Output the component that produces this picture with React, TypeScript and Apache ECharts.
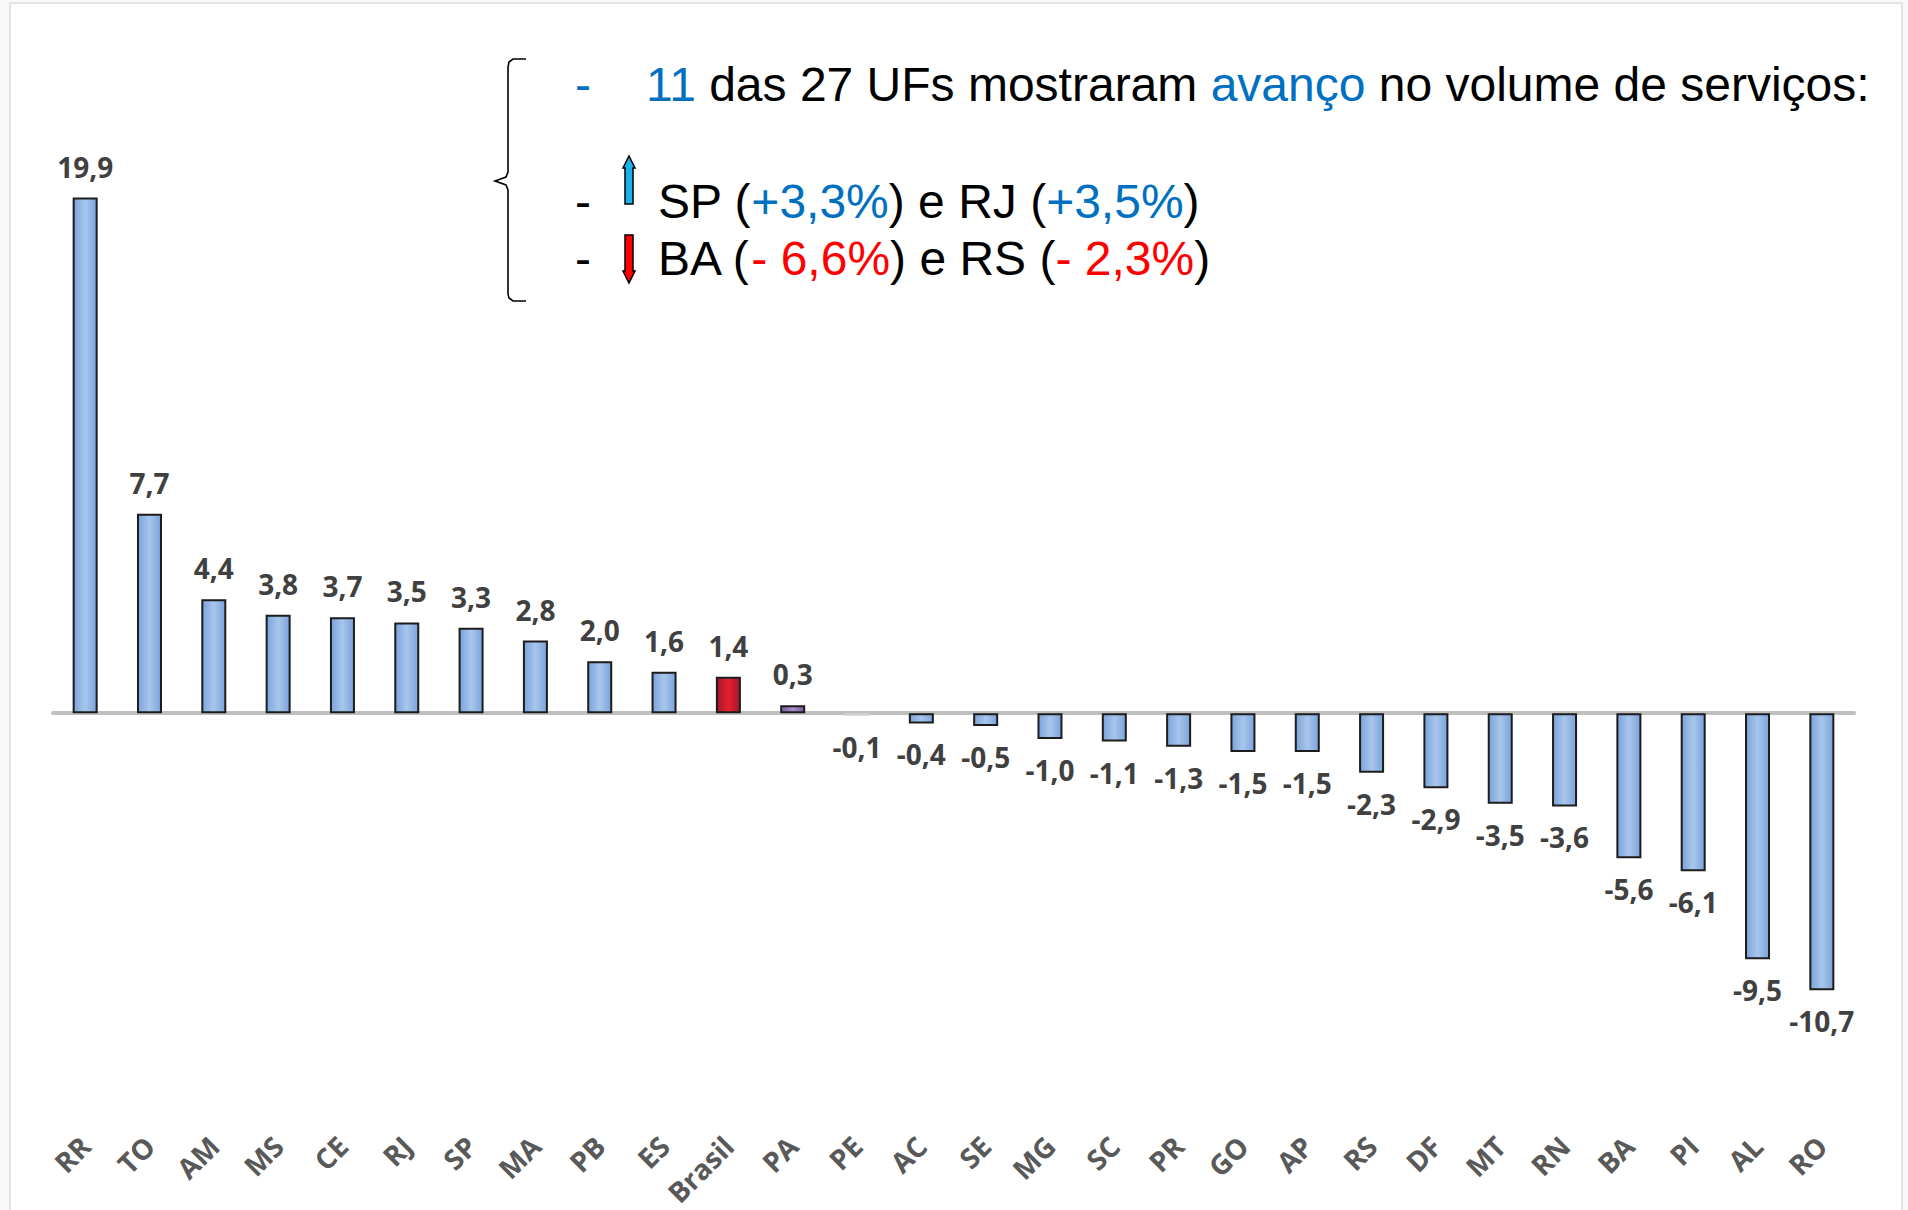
import React, { useEffect, useRef } from "react";
import * as echarts from "echarts";

const categories = ["RR","TO","AM","MS","CE","RJ","SP","MA","PB","ES","Brasil","PA","PE","AC","SE","MG","SC","PR","GO","AP","RS","DF","MT","RN","BA","PI","AL","RO"];
const values = [19.9,7.7,4.4,3.8,3.7,3.5,3.3,2.8,2.0,1.6,1.4,0.3,-0.1,-0.4,-0.5,-1.0,-1.1,-1.3,-1.5,-1.5,-2.3,-2.9,-3.5,-3.6,-5.6,-6.1,-9.5,-10.7];

const line1 = "{b|11} das 27 UFs mostraram {b|avanço} no volume de serviços:";
const line2 = "SP ({b|+3,3%}) e RJ ({b|+3,5%})";
const line3 = "BA ({r|- 6,6%}) e RS ({r|- 2,3%})";

const grad = (edge: string, mid: string) => ({
  type: "linear", x: 0, y: 0, x2: 1, y2: 0,
  colorStops: [
    { offset: 0, color: edge },
    { offset: 0.5, color: mid },
    { offset: 1, color: edge },
  ],
});

export default function App() {
  const ref = useRef<HTMLDivElement>(null);
  useEffect(() => {
    const chart = echarts.init(ref.current!, null, { renderer: "svg" });
    const TF = "'Liberation Sans', Arial, sans-serif";
    const LF = "'Open Sans', Lato, sans-serif";
    const FS = 48;
    const richStyles = {
      b: { fill: "#0070C0", fontSize: FS, fontFamily: TF },
      r: { fill: "#FF0000", fontSize: FS, fontFamily: TF },
    };
    const data = values.map((v, i) => {
      const c = categories[i];
      let color: any = grad("#7aa3da", "#a9c6ec");
      let borderColor = "#1c1c1c";
      if (c === "Brasil") color = grad("#a01830", "#e8202c");
      if (c === "PA") color = grad("#7a5c9c", "#a68ec6");
      if (c === "PE") { color = "#d6d6d6"; borderColor = "#cfcfcf"; }
      return {
        value: v,
        itemStyle: { color, borderColor, borderWidth: 2 },
        label: { position: v < 0 ? "bottom" : "top" },
      };
    });
    chart.setOption({
      animation: false,
      backgroundColor: "#f8f8f8",
      grid: { left: 53, right: 54, top: 195, bottom: 186 },
      xAxis: [
        {
          type: "category",
          data: categories,
          position: "bottom",
          axisLine: { onZero: true, lineStyle: { color: "#bfbfbf", width: 4 } },
          axisTick: { show: false },
          axisLabel: { show: false },
        },
        {
          type: "category",
          data: categories,
          position: "bottom",
          axisLine: { show: false, onZero: false },
          axisTick: { show: false },
          axisLabel: {
            interval: 0,
            rotate: 45,
            margin: 117,
            fontSize: 28,
            fontWeight: "bold",
            fontFamily: LF,
            color: "#595959",
          },
        },
      ],
      yAxis: { type: "value", min: -12, max: 20, show: false, splitLine: { show: false } },
      series: [
        {
          type: "bar",
          xAxisIndex: 0,
          data,
          barWidth: 25,
          label: {
            show: true,
            distance: 17,
            fontSize: 28,
            fontWeight: "bold",
            fontFamily: LF,
            color: "#404040",
            formatter: (p: any) => Number(p.value).toFixed(1).replace(".", ","),
          },
        },
      ],
      graphic: [
        {
          type: "rect",
          z: -100,
          shape: { x: 10, y: 3, width: 1892, height: 1220 },
          style: { fill: "#ffffff", stroke: "#e4e4e4", lineWidth: 2 },
        },
        {
          type: "polyline",
          shape: {
            points: [[526,59],[513,59],[509,62],[508,67],[508,172],[506,177],[495,181],[506,185],[508,190],[508,294],[509,298],[513,301],[526,301]],
          },
          style: { stroke: "#000", lineWidth: 1.6, fill: null },
        },
        { type: "text", x: 575, y: 84, style: { text: "-", fill: "#0070C0", font: `${FS}px ${TF}`, verticalAlign: "middle" } },
        { type: "text", x: 575, y: 201, style: { text: "-", fill: "#000", font: `${FS}px ${TF}`, verticalAlign: "middle" } },
        { type: "text", x: 575, y: 258, style: { text: "-", fill: "#000", font: `${FS}px ${TF}`, verticalAlign: "middle" } },
        { type: "text", x: 646, y: 84, style: { text: line1, fill: "#000", font: `${FS}px ${TF}`, verticalAlign: "middle", rich: richStyles } },
        { type: "text", x: 658, y: 201, style: { text: line2, fill: "#000", font: `${FS}px ${TF}`, verticalAlign: "middle", rich: richStyles } },
        { type: "text", x: 658, y: 258, style: { text: line3, fill: "#000", font: `${FS}px ${TF}`, verticalAlign: "middle", rich: richStyles } },
        {
          type: "polygon",
          shape: { points: [[629,156],[635,168],[633,168],[633,204],[625,204],[625,168],[623,168]] },
          style: { fill: "#1ab0ea", stroke: "#000", lineWidth: 1.5 },
        },
        {
          type: "polygon",
          shape: { points: [[629,283],[635,271],[633,271],[633,235],[625,235],[625,271],[623,271]] },
          style: { fill: "#ff0000", stroke: "#000", lineWidth: 1.5 },
        },
      ],
    });
    return () => chart.dispose();
  }, []);
  return <div ref={ref} style={{ position: "absolute", left: 0, top: 0, width: 1908, height: 1210 }} />;
}
